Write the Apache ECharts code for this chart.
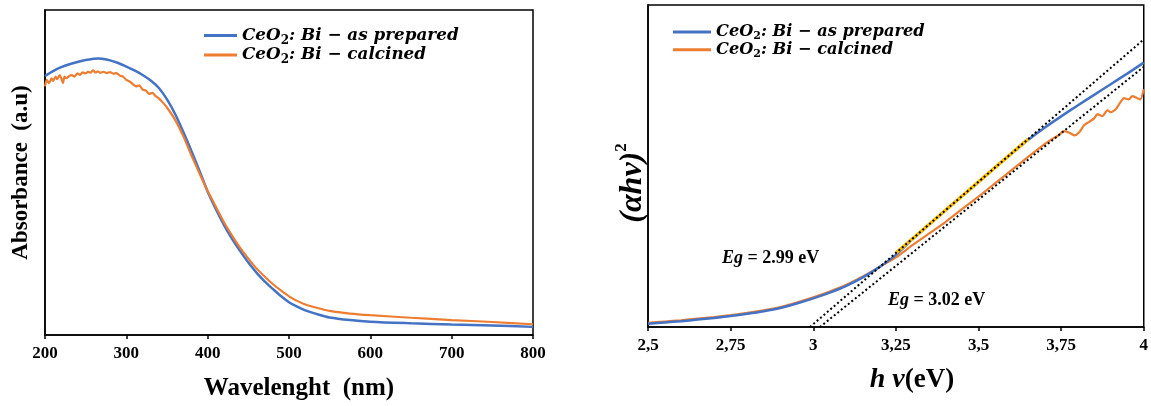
<!DOCTYPE html>
<html><head><meta charset="utf-8">
<script src="https://cdn.jsdelivr.net/npm/echarts@6/dist/echarts.min.js"></script>
<style>html,body{margin:0;padding:0;background:#fff}#c{width:1151px;height:406px}</style>
</head><body><div id="c"></div>
<script>
// ---- Left panel: absorbance (relative units, fraction of plot height) ----
const wlBlue = [200,210,220,230,240,250,260,265,270,280,290,300,310,320,330,340,350,360,370,380,390,400,410,420,430,440,450,460,470,480,490,500,510,520,535,550,575,600,650,700,750,800];
const absBlue = [0.797,0.812,0.824,0.833,0.840,0.846,0.850,0.851,0.850,0.845,0.837,0.826,0.814,0.800,0.783,0.760,0.725,0.680,0.625,0.566,0.505,0.441,0.388,0.339,0.296,0.258,0.223,0.192,0.165,0.142,0.120,0.101,0.087,0.076,0.064,0.054,0.046,0.041,0.036,0.032,0.029,0.025];
const wlOrange = [200,202,205,208,210,213,215,218,220,222,224,226,230,233,236,240,243,246,250,253,256,259,262,265,268,272,276,280,284,288,292,296,300,304,308,312,316,320,324,328,332,336,340,345,350,360,370,380,390,400,410,420,430,440,450,460,470,480,490,500,510,520,535,550,575,600,650,700,750,800];
const absOrange = [0.765,0.785,0.775,0.790,0.782,0.795,0.787,0.800,0.790,0.775,0.795,0.790,0.797,0.800,0.795,0.805,0.800,0.808,0.805,0.810,0.807,0.814,0.808,0.811,0.807,0.810,0.806,0.809,0.804,0.806,0.798,0.795,0.785,0.780,0.772,0.765,0.768,0.755,0.752,0.742,0.745,0.735,0.728,0.715,0.700,0.662,0.612,0.553,0.497,0.443,0.395,0.347,0.306,0.268,0.235,0.205,0.180,0.157,0.137,0.119,0.105,0.094,0.083,0.074,0.066,0.061,0.053,0.046,0.040,0.033];

// ---- Right panel: Tauc plot (relative units) ----
const hvBlue = [2.5,2.55,2.6,2.65,2.7,2.75,2.8,2.85,2.9,2.95,3.0,3.05,3.1,3.15,3.2,3.25,3.3,3.35,3.4,3.45,3.5,3.55,3.6,3.65,3.7,3.75,3.8,3.85,3.9,3.95,4.0];
const taucBlue = [0.010,0.014,0.018,0.023,0.028,0.034,0.041,0.049,0.059,0.073,0.089,0.107,0.128,0.154,0.186,0.224,0.272,0.317,0.362,0.406,0.450,0.495,0.539,0.581,0.619,0.654,0.688,0.721,0.754,0.787,0.821];
const hvOrange = [2.5,2.55,2.6,2.65,2.7,2.75,2.8,2.85,2.9,2.95,3.0,3.05,3.1,3.15,3.2,3.25,3.3,3.35,3.4,3.45,3.5,3.55,3.6,3.65,3.7,3.72,3.74,3.76,3.775,3.79,3.805,3.82,3.835,3.85,3.86,3.875,3.89,3.9,3.915,3.93,3.94,3.955,3.965,3.98,3.99,4.0];
const taucOrange = [0.013,0.017,0.021,0.026,0.031,0.037,0.044,0.052,0.062,0.076,0.092,0.110,0.131,0.157,0.186,0.216,0.254,0.290,0.326,0.366,0.405,0.446,0.487,0.528,0.568,0.582,0.594,0.608,0.603,0.595,0.605,0.627,0.637,0.648,0.661,0.655,0.673,0.667,0.676,0.699,0.711,0.707,0.717,0.711,0.707,0.738];

// band-gap extrapolations: x-intercept (Eg) and value of the tangent at hv = 4
const egValues = [2.99, 3.02];
const tangentEnd = [0.893, 0.808];
const fitRange = [3.25, 3.65];

const names = ['prep', 'calc'];
const legendText = {
  prep: '{i|CeO}{s|2}{i|: Bi − as prepared}',
  calc: '{i|CeO}{s|2}{i|: Bi − calcined}'
};
const BLUE = '#4472C4', ORANGE = '#ED7D31';
const SERIF = 'Liberation Serif';
const MATH = 'DejaVu Serif';

const zip = (a, b) => a.map((v, i) => [v, b[i]]);
const tangentAt = (k, x) => tangentEnd[k] * (x - egValues[k]) / (4 - egValues[k]);

function legendRich(size, lh) {
  return {
    i: {fontFamily: MATH, fontStyle: 'italic', fontWeight: 'bold', fontSize: size, lineHeight: lh, color: '#000', verticalAlign: 'middle'},
    s: {fontFamily: MATH, fontWeight: 'bold', fontSize: Math.round(size * 0.7), lineHeight: Math.round(size * 0.7), color: '#000', verticalAlign: 'bottom'}
  };
}

const axisLbl = {fontFamily: SERIF, fontWeight: 'bold', fontSize: 17, color: '#000', margin: 10};
const axLine = {show: true, onZero: false, lineStyle: {color: '#000', width: 1.5}};

const chart = echarts.init(document.getElementById('c'), null, {renderer: 'canvas'});
chart.setOption({
  animation: false,
  backgroundColor: '#fff',
  grid: [
    {left: 45, right: 618, top: 10, bottom: 67, show: true, borderColor: '#000', borderWidth: 1.5},
    {left: 648, right: 5, top: 5, bottom: 79, show: true, borderColor: '#000', borderWidth: 1.5}
  ],
  legend: [
    {orient: 'vertical', left: 199, top: 22, itemWidth: 33, itemHeight: 3, itemGap: 0, icon: 'rect',
      data: names, selectedMode: false,
      formatter: n => legendText[n], textStyle: {rich: legendRich(16.8, 22)}},
    {orient: 'vertical', left: 668, top: 19, itemWidth: 38, itemHeight: 3, itemGap: 0, icon: 'rect',
      data: names, selectedMode: false,
      formatter: n => legendText[n], textStyle: {rich: legendRich(16.2, 19.5)}}
  ],
  xAxis: [
    {gridIndex: 0, type: 'value', min: 200, max: 800, interval: 100,
      axisLine: axLine, axisTick: {show: true, inside: false, length: 4, lineStyle: {color: '#000', width: 1.5}},
      splitLine: {show: false}, axisLabel: axisLbl,
      name: 'Wavelenght  (nm)', nameLocation: 'middle', nameGap: 41,
      nameTextStyle: {fontFamily: SERIF, fontWeight: 'bold', fontSize: 25, color: '#000', padding: [0, 0, 0, 20]}},
    {gridIndex: 1, type: 'value', min: 2.5, max: 4, interval: 0.25,
      axisLine: axLine, axisTick: {show: true, inside: false, length: 4, lineStyle: {color: '#000', width: 1.5}},
      splitLine: {show: false},
      axisLabel: Object.assign({}, axisLbl, {formatter: v => String(+v.toFixed(2)).replace('.', ',')})}
  ],
  yAxis: [
    {gridIndex: 0, type: 'value', min: 0, max: 1, axisLine: axLine, axisTick: {show: false},
      axisLabel: {show: false}, splitLine: {show: false},
      name: 'Absorbance  (a.u)', nameLocation: 'middle', nameGap: 12,
      nameTextStyle: {fontFamily: SERIF, fontWeight: 'bold', fontSize: 23, color: '#000'}},
    {gridIndex: 1, type: 'value', min: 0, max: 1, axisLine: axLine, axisTick: {show: false},
      axisLabel: {show: false}, splitLine: {show: false}}
  ],
  series: [
    {name: 'prep', type: 'line', xAxisIndex: 0, yAxisIndex: 0, data: zip(wlBlue, absBlue), showSymbol: false, smooth: 0.3,
      lineStyle: {color: BLUE, width: 2.5}, itemStyle: {color: BLUE}, z: 3},
    {name: 'calc', type: 'line', xAxisIndex: 0, yAxisIndex: 0, data: zip(wlOrange, absOrange), showSymbol: false, smooth: 0.2,
      lineStyle: {color: ORANGE, width: 2.2}, itemStyle: {color: ORANGE}, z: 4},
    {name: 'calc', type: 'line', xAxisIndex: 1, yAxisIndex: 1, data: zip(hvOrange, taucOrange), showSymbol: false, smooth: 0.2,
      lineStyle: {color: ORANGE, width: 2.2}, itemStyle: {color: ORANGE}, z: 3},
    {name: 'prep', type: 'line', xAxisIndex: 1, yAxisIndex: 1, data: zip(hvBlue, taucBlue), showSymbol: false, smooth: 0.3,
      lineStyle: {color: BLUE, width: 2.5}, itemStyle: {color: BLUE}, z: 4},
    {name: 'fit', type: 'line', xAxisIndex: 1, yAxisIndex: 1, showSymbol: false,
      data: fitRange.map(x => [x, tangentAt(0, x)]),
      lineStyle: {color: '#FFC000', width: 3.5}, z: 5},
    {name: 'tan1', type: 'line', xAxisIndex: 1, yAxisIndex: 1, showSymbol: false,
      data: [[egValues[0], 0], [4, tangentEnd[0]]],
      lineStyle: {color: '#000', width: 2, type: [2, 2.5]}, z: 6},
    {name: 'tan2', type: 'line', xAxisIndex: 1, yAxisIndex: 1, showSymbol: false,
      data: [[egValues[1], 0], [4, tangentEnd[1]]],
      lineStyle: {color: '#000', width: 2, type: [2, 2.5]}, z: 6}
  ],
  graphic: [
    {type: 'text', x: 631, y: 183, rotation: Math.PI / 2,
      style: {text: '{a|(αhν)}{s|2}', textAlign: 'center', textVerticalAlign: 'middle',
        rich: {a: {fontFamily: SERIF, fontStyle: 'italic', fontWeight: 'bold', fontSize: 32, lineHeight: 36, verticalAlign: 'bottom', fill: '#000'},
               s: {fontFamily: SERIF, fontWeight: 'bold', fontSize: 17, lineHeight: 17, verticalAlign: 'top', fill: '#000'}}}},
    {type: 'text', x: 912, y: 380,
      style: {text: '{a|h ν}{b|(eV)}', textAlign: 'center', textVerticalAlign: 'middle',
        rich: {a: {fontFamily: SERIF, fontStyle: 'italic', fontWeight: 'bold', fontSize: 28, fill: '#000'},
               b: {fontFamily: SERIF, fontWeight: 'bold', fontSize: 27, fill: '#000'}}}},
    {type: 'text', x: 722, y: 258,
      style: {text: '{a|Eg}{b| = ' + egValues[0].toFixed(2) + ' eV}', textAlign: 'left', textVerticalAlign: 'middle',
        rich: {a: {fontFamily: SERIF, fontStyle: 'italic', fontWeight: 'bold', fontSize: 18, fill: '#000'},
               b: {fontFamily: SERIF, fontWeight: 'bold', fontSize: 18, fill: '#000'}}}},
    {type: 'text', x: 888, y: 300,
      style: {text: '{a|Eg}{b| = ' + egValues[1].toFixed(2) + ' eV}', textAlign: 'left', textVerticalAlign: 'middle',
        rich: {a: {fontFamily: SERIF, fontStyle: 'italic', fontWeight: 'bold', fontSize: 18, fill: '#000'},
               b: {fontFamily: SERIF, fontWeight: 'bold', fontSize: 18, fill: '#000'}}}}
  ]
});
</script></body></html>
